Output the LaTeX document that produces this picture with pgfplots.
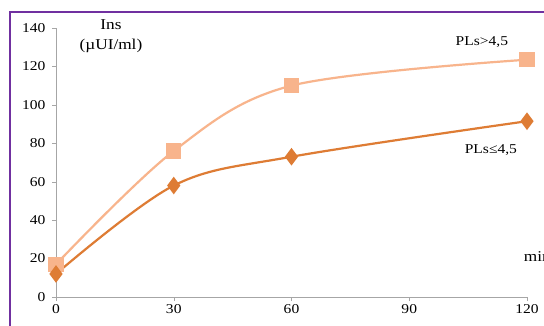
\documentclass[border=0pt]{standalone}
\usepackage{fontspec}
\setmainfont{Liberation Serif}[FakeStretch=1.15]
\usepackage{pgfplots}
\pgfplotsset{compat=1.18}
\definecolor{lightor}{RGB}{248,180,140}
\definecolor{darkor}{RGB}{222,124,52}
\definecolor{frame}{RGB}{112,48,160}
\begin{document}
\begin{tikzpicture}
\useasboundingbox (0pt,0pt) rectangle (544pt,325pt);
\fill[white] (0pt,0pt) rectangle (544pt,325pt);
\draw[frame, line width=2pt] (10pt,-5pt) -- (10pt,313pt) -- (560pt,313pt);
\begin{axis}[
  at={(56pt,28pt)}, anchor=origin,
  scale only axis, width=471pt, height=269pt,
  xmin=0, xmax=120, ymin=0, ymax=140,
  xtick={0,30,60,90,120}, ytick={0,20,...,140},
  axis x line=bottom, axis y line=left,
  axis line style={gray!70, -},
  tick style={gray!70},
  tick align=outside, major tick length=4pt,
  clip=false,
  font=\fontsize{13.5}{15}\selectfont,
  /pgf/number format/assume math mode=true,
  xticklabel style={yshift=0pt},
  yticklabel style={xshift=-3pt},
]
\addplot[lightor, line width=2.2pt, smooth, tension=0.55, mark=square*, mark size=6.5pt, mark options={solid, fill=lightor}]
  coordinates {(0,17) (30,76) (60,110) (120,123.5)};
\addplot[darkor, line width=2.2pt, smooth, tension=0.55, mark=diamond*, mark size=7pt, mark options={solid, fill=darkor}]
  coordinates {(0,12) (30,58) (60,73) (120,91.5)};
\node[align=center, font=\fontsize{15}{20}\selectfont] at (axis cs:14,136) {Ins\\(µUI/ml)};
\node[font=\fontsize{13.5}{15}\selectfont] at (axis cs:108.5,132.7) {PLs>4,5};
\node[font=\fontsize{13.5}{15}\selectfont] at (axis cs:110.8,76.5) {PLs≤4,5};
\node[anchor=west, font=\fontsize{15}{16}\selectfont] at (axis cs:118.3,21.3) {min};
\end{axis}
\end{tikzpicture}
\end{document}
